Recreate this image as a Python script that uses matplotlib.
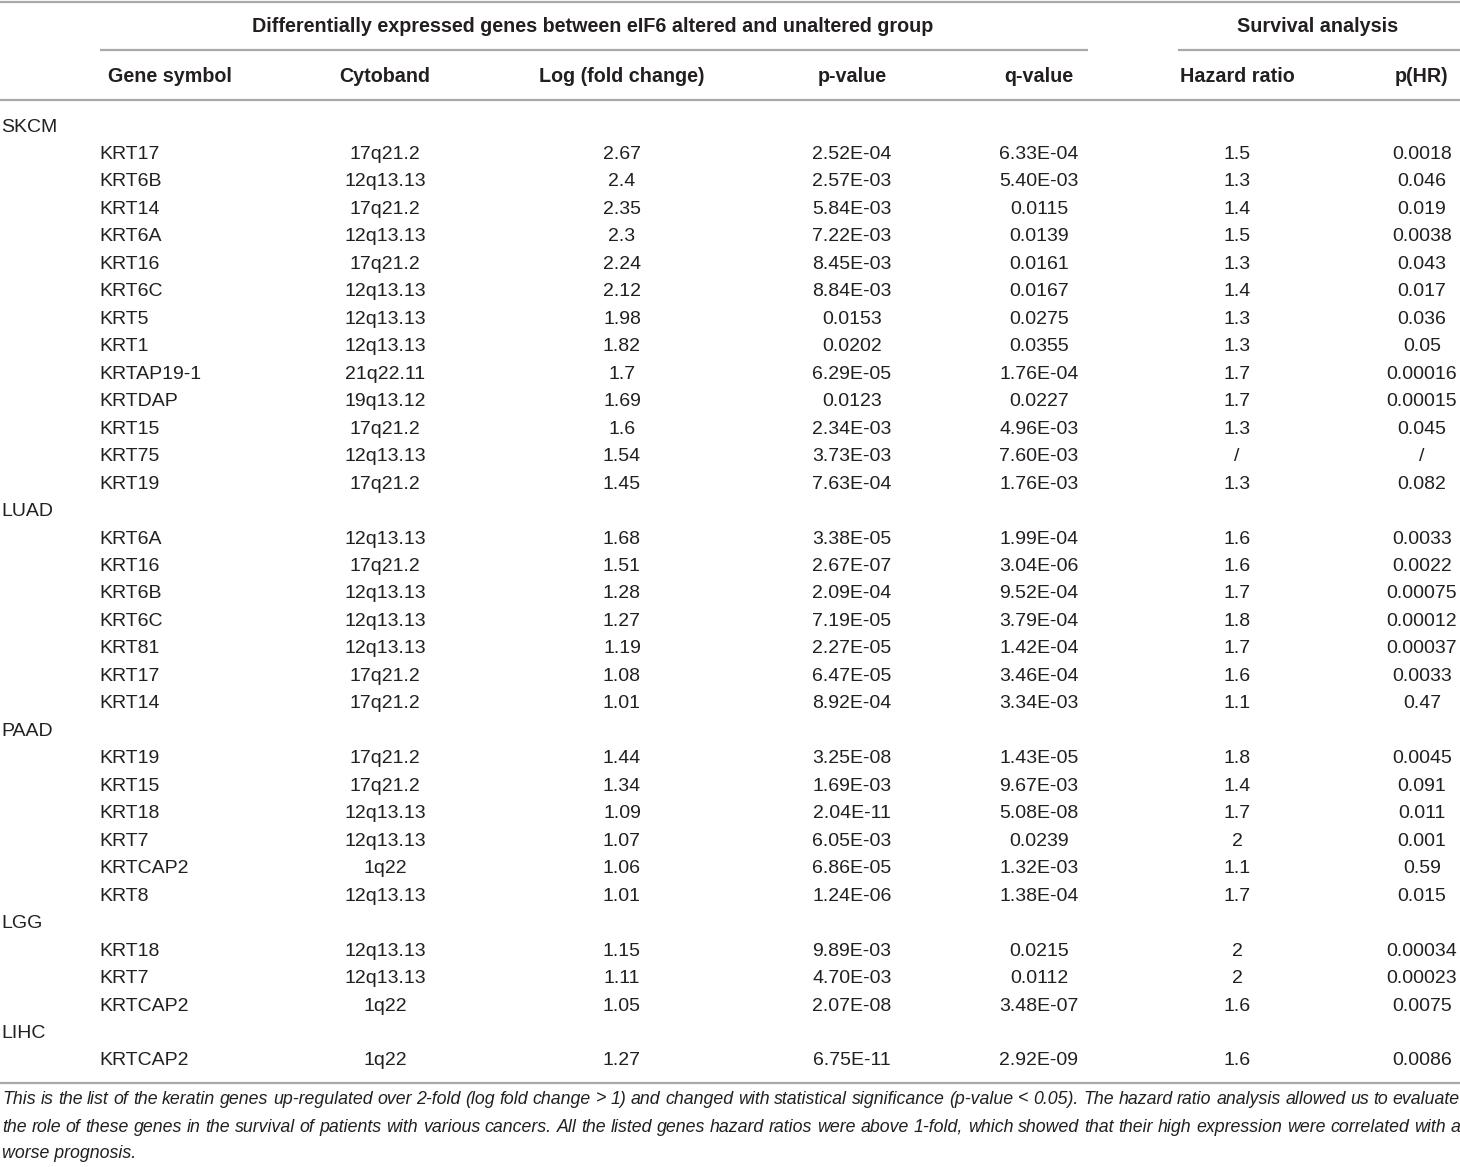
import matplotlib
matplotlib.use("Agg")
import matplotlib.pyplot as plt
from matplotlib import font_manager

# table content
groups = ["SKCM", "LUAD", "PAAD", "LGG", "LIHC"]
group_sizes = [13, 7, 6, 3, 1]
genes = ["KRT17", "KRT6B", "KRT14", "KRT6A", "KRT16", "KRT6C", "KRT5", "KRT1", "KRTAP19-1", "KRTDAP", "KRT15", "KRT75", "KRT19",
         "KRT6A", "KRT16", "KRT6B", "KRT6C", "KRT81", "KRT17", "KRT14",
         "KRT19", "KRT15", "KRT18", "KRT7", "KRTCAP2", "KRT8",
         "KRT18", "KRT7", "KRTCAP2",
         "KRTCAP2"]
cytobands = ["17q21.2", "12q13.13", "17q21.2", "12q13.13", "17q21.2", "12q13.13", "12q13.13", "12q13.13", "21q22.11", "19q13.12", "17q21.2", "12q13.13", "17q21.2",
             "12q13.13", "17q21.2", "12q13.13", "12q13.13", "12q13.13", "17q21.2", "17q21.2",
             "17q21.2", "17q21.2", "12q13.13", "12q13.13", "1q22", "12q13.13",
             "12q13.13", "12q13.13", "1q22",
             "1q22"]
log_fc = ["2.67", "2.4", "2.35", "2.3", "2.24", "2.12", "1.98", "1.82", "1.7", "1.69", "1.6", "1.54", "1.45",
          "1.68", "1.51", "1.28", "1.27", "1.19", "1.08", "1.01",
          "1.44", "1.34", "1.09", "1.07", "1.06", "1.01",
          "1.15", "1.11", "1.05",
          "1.27"]
p_values = ["2.52E-04", "2.57E-03", "5.84E-03", "7.22E-03", "8.45E-03", "8.84E-03", "0.0153", "0.0202", "6.29E-05", "0.0123", "2.34E-03", "3.73E-03", "7.63E-04",
            "3.38E-05", "2.67E-07", "2.09E-04", "7.19E-05", "2.27E-05", "6.47E-05", "8.92E-04",
            "3.25E-08", "1.69E-03", "2.04E-11", "6.05E-03", "6.86E-05", "1.24E-06",
            "9.89E-03", "4.70E-03", "2.07E-08",
            "6.75E-11"]
q_values = ["6.33E-04", "5.40E-03", "0.0115", "0.0139", "0.0161", "0.0167", "0.0275", "0.0355", "1.76E-04", "0.0227", "4.96E-03", "7.60E-03", "1.76E-03",
            "1.99E-04", "3.04E-06", "9.52E-04", "3.79E-04", "1.42E-04", "3.46E-04", "3.34E-03",
            "1.43E-05", "9.67E-03", "5.08E-08", "0.0239", "1.32E-03", "1.38E-04",
            "0.0215", "0.0112", "3.48E-07",
            "2.92E-09"]
hazard_ratios = ["1.5", "1.3", "1.4", "1.5", "1.3", "1.4", "1.3", "1.3", "1.7", "1.7", "1.3", "/", "1.3",
                 "1.6", "1.6", "1.7", "1.8", "1.7", "1.6", "1.1",
                 "1.8", "1.4", "1.7", "2", "1.1", "1.7",
                 "2", "2", "1.6",
                 "1.6"]
p_hr = ["0.0018", "0.046", "0.019", "0.0038", "0.043", "0.017", "0.036", "0.05", "0.00016", "0.00015", "0.045", "/", "0.082",
        "0.0033", "0.0022", "0.00075", "0.00012", "0.00037", "0.0033", "0.47",
        "0.0045", "0.091", "0.011", "0.001", "0.59", "0.015",
        "0.00034", "0.00023", "0.0075",
        "0.0086"]

span_titles = ["Differentially expressed genes between eIF6 altered and unaltered group", "Survival analysis"]
col_headers = ["Gene symbol", "Cytoband", "Log (fold change)", "p-value", "q-value", "Hazard ratio", "p(HR)"]
caption_lines = [
    "This is the list of the keratin genes up-regulated over 2-fold (log fold change > 1) and changed with statistical significance (p-value < 0.05). The hazard ratio analysis allowed us to evaluate",
    "the role of these genes in the survival of patients with various cancers. All the listed genes hazard ratios were above 1-fold, which showed that their high expression were correlated with a",
    "worse prognosis.",
]

names = {f.name for f in font_manager.fontManager.ttflist}
FONT = ["Liberation Sans Narrow"] if "Liberation Sans Narrow" in names else ["Liberation Sans"]
FONT = FONT + ["DejaVu Sans"]
TXT = "#231f20"
LINE = "#a7a9ac"
FS = 14
FS_HEAD = 14.2
FS_CAP = 12.8

W, H = 1460, 1167
fig = plt.figure(figsize=(W / 100, H / 100), dpi=100)
ax = fig.add_axes([0, 0, 1, 1])
ax.set_xlim(0, W)
ax.set_ylim(H, 0)
ax.axis("off")

# rules
for y, x0, x1 in [(2, 0, W), (50, 100, 1088), (50, 1178, W), (100, 0, W), (1083, 0, W)]:
    ax.plot([x0, x1], [y, y], color=LINE, lw=1.6, solid_capstyle="butt")

ax.text(593, 27, span_titles[0], ha="center", va="center", fontsize=FS_HEAD, fontweight="bold", family=FONT, color=TXT)
ax.text(1318, 27, span_titles[1], ha="center", va="center", fontsize=FS_HEAD, fontweight="bold", family=FONT, color=TXT)

col_x = [170, 385, 622, 852, 1039, 1237, 1422]
for x, h in zip(col_x, col_headers):
    ax.text(x, 77, h, ha="center", va="center", fontsize=FS_HEAD, fontweight="bold", family=FONT, color=TXT)

y0, dy = 127, 27.47
row = 0
gi = 0
for g, n in zip(groups, group_sizes):
    ax.text(1, y0 + row * dy, g, ha="left", va="center", fontsize=FS, family=FONT, color=TXT)
    row += 1
    for k in range(n):
        y = y0 + row * dy
        ax.text(99, y, genes[gi], ha="left", va="center", fontsize=FS, family=FONT, color=TXT)
        vals = [cytobands[gi], log_fc[gi], p_values[gi], q_values[gi], hazard_ratios[gi], p_hr[gi]]
        for x, v in zip(col_x[1:], vals):
            ax.text(x, y, v, ha="center", va="center", fontsize=FS, family=FONT, color=TXT)
        row += 1
        gi += 1

# caption, first two lines justified to full width
fig.canvas.draw()
renderer = fig.canvas.get_renderer()
cap_y = [1099, 1127, 1154]
for i, (line, y) in enumerate(zip(caption_lines, cap_y)):
    if i == len(caption_lines) - 1:
        ax.text(2, y, line, ha="left", va="center", fontsize=FS_CAP, style="italic", family=FONT, color=TXT)
        continue
    words = line.split(" ")
    arts = [ax.text(0, y, w, ha="left", va="center", fontsize=FS_CAP, style="italic", family=FONT, color=TXT) for w in words]
    widths = [a.get_window_extent(renderer).width for a in arts]
    gap = (W - 2 - sum(widths)) / (len(words) - 1)
    x = 2
    for a, w in zip(arts, widths):
        a.set_x(x)
        x += w + gap

fig.savefig("out.png", dpi=100)
